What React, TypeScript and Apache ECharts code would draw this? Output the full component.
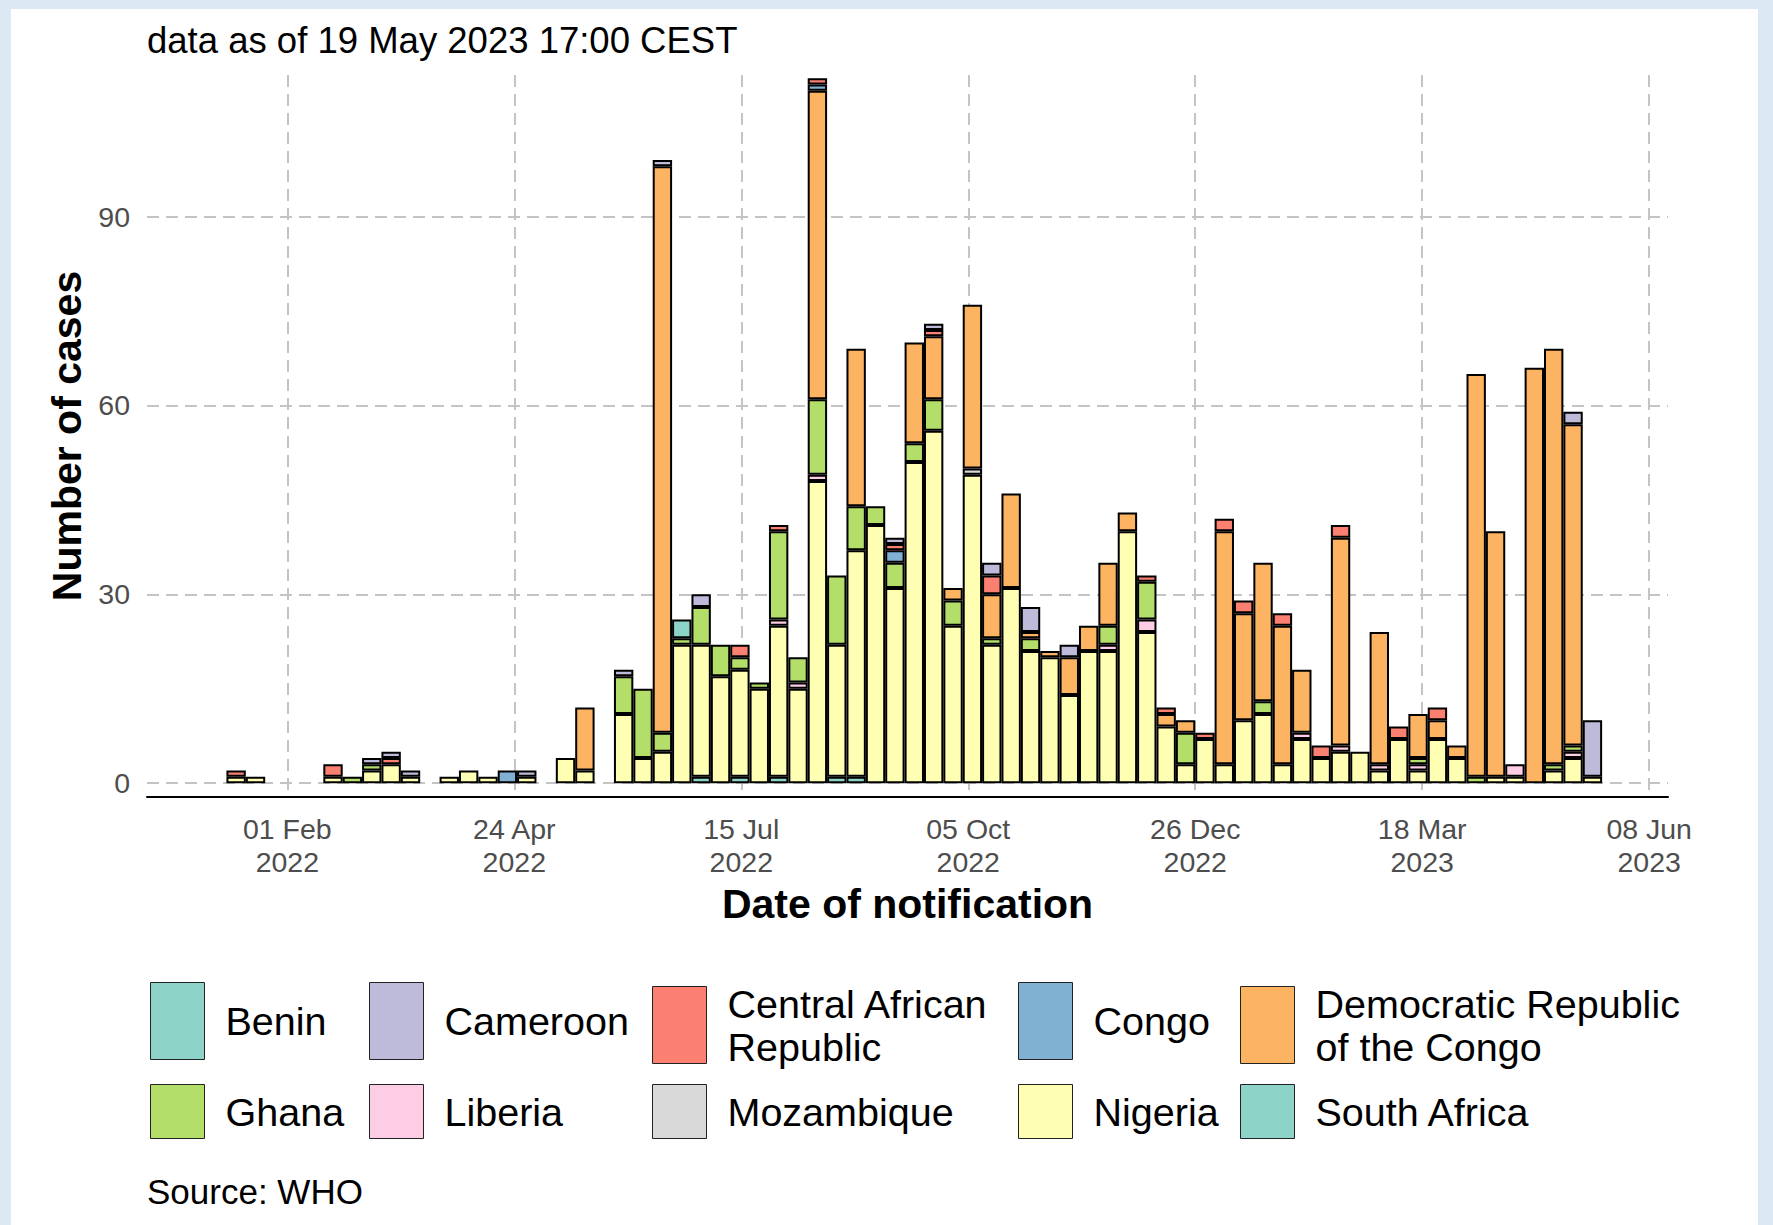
import React, { useEffect, useRef } from "react";
import * as echarts from "echarts";

// ---------- data ----------
const COUNTRIES = [
  "Benin",
  "Cameroon",
  "Central African Republic",
  "Congo",
  "Democratic Republic of the Congo",
  "Ghana",
  "Liberia",
  "Mozambique",
  "Nigeria",
  "South Africa",
];

const COLORS: Record<string, string> = {
  Benin: "#8DD3C7",
  Cameroon: "#BEBADA",
  "Central African Republic": "#FB8072",
  Congo: "#80B1D3",
  "Democratic Republic of the Congo": "#FDB462",
  Ghana: "#B3DE69",
  Liberia: "#FCCDE5",
  Mozambique: "#D9D9D9",
  Nigeria: "#FFFFB3",
  "South Africa": "#8DD3C7",
};

// stacking order, bottom to top
const STACK_ORDER = [
  "South Africa",
  "Nigeria",
  "Mozambique",
  "Liberia",
  "Ghana",
  "Democratic Republic of the Congo",
  "Congo",
  "Central African Republic",
  "Cameroon",
  "Benin",
];

const FIRST_WEEK_START = "2022-01-10"; // ISO week start (Monday) of the first bar
const WEEK_COUNT = 71;

const nigeria = [
  1, 1, 0, 0, 0, 1, 0, 2, 3, 1,
  0, 1, 2, 1, 0, 1, 0, 4, 2, 0,
  11, 4, 5, 22, 21, 17, 17, 15, 24, 15,
  48, 21, 36, 41, 31, 51, 56, 25, 49, 22,
  31, 21, 20, 14, 21, 21, 40, 24, 9, 3,
  7, 3, 10, 11, 3, 7, 4, 5, 5, 2,
  7, 2, 7, 4, 0, 1, 1, 0, 2, 4,
  1,
];
const ghana = [
  0, 0, 0, 0, 0, 0, 1, 1, 0, 0,
  0, 0, 0, 0, 0, 0, 0, 0, 0, 0,
  6, 11, 3, 1, 6, 5, 2, 1, 14, 4,
  12, 11, 7, 3, 4, 3, 5, 4, 0, 1,
  0, 2, 0, 0, 0, 3, 0, 6, 0, 5,
  0, 0, 0, 2, 0, 0, 0, 0, 0, 0,
  0, 1, 0, 0, 1, 0, 0, 0, 1, 1,
  0,
];
const drc = [
  0, 0, 0, 0, 0, 0, 0, 0, 0, 0,
  0, 0, 0, 0, 0, 0, 0, 0, 10, 0,
  0, 0, 90, 0, 0, 0, 0, 0, 0, 0,
  49, 0, 25, 0, 0, 16, 10, 2, 26, 7,
  15, 1, 1, 6, 4, 10, 3, 0, 2, 2,
  0, 37, 17, 22, 22, 10, 0, 33, 0, 21,
  0, 7, 3, 2, 64, 39, 0, 66, 66, 51,
  0,
];
const car = [
  1, 0, 0, 0, 0, 2, 0, 0, 1, 0,
  0, 0, 0, 0, 0, 0, 0, 0, 0, 0,
  0, 0, 0, 0, 0, 0, 2, 0, 1, 0,
  1, 0, 0, 0, 1, 0, 1, 0, 0, 3,
  0, 0, 0, 0, 0, 0, 0, 1, 1, 0,
  1, 2, 2, 0, 2, 0, 2, 2, 0, 0,
  2, 0, 2, 0, 0, 0, 0, 0, 0, 0,
  0,
];
const cameroon = [
  0, 0, 0, 0, 0, 0, 0, 1, 1, 1,
  0, 0, 0, 0, 0, 1, 0, 0, 0, 0,
  1, 0, 1, 0, 2, 0, 0, 0, 0, 0,
  0, 0, 0, 0, 1, 0, 1, 0, 0, 2,
  0, 4, 0, 2, 0, 0, 0, 0, 0, 0,
  0, 0, 0, 0, 0, 0, 0, 0, 0, 0,
  0, 0, 0, 0, 0, 0, 0, 0, 0, 2,
  9,
];
const congo = [
  0, 0, 0, 0, 0, 0, 0, 0, 0, 0,
  0, 0, 0, 0, 2, 0, 0, 0, 0, 0,
  0, 0, 0, 0, 0, 0, 0, 0, 0, 0,
  1, 0, 0, 0, 2, 0, 0, 0, 0, 0,
  0, 0, 0, 0, 0, 0, 0, 0, 0, 0,
  0, 0, 0, 0, 0, 0, 0, 0, 0, 0,
  0, 0, 0, 0, 0, 0, 0, 0, 0, 0,
  0,
];
const liberia = [
  0, 0, 0, 0, 0, 0, 0, 0, 0, 0,
  0, 0, 0, 0, 0, 0, 0, 0, 0, 0,
  0, 0, 0, 0, 0, 0, 0, 0, 1, 1,
  1, 0, 0, 0, 0, 0, 0, 0, 0, 0,
  0, 0, 0, 0, 0, 1, 0, 2, 0, 0,
  0, 0, 0, 0, 0, 1, 0, 1, 0, 1,
  0, 1, 0, 0, 0, 0, 2, 0, 0, 1,
  0,
];
const mozambique = [
  0, 0, 0, 0, 0, 0, 0, 0, 0, 0,
  0, 0, 0, 0, 0, 0, 0, 0, 0, 0,
  0, 0, 0, 0, 0, 0, 0, 0, 0, 0,
  0, 0, 0, 0, 0, 0, 0, 0, 1, 0,
  0, 0, 0, 0, 0, 0, 0, 0, 0, 0,
  0, 0, 0, 0, 0, 0, 0, 0, 0, 0,
  0, 0, 0, 0, 0, 0, 0, 0, 0, 0,
  0,
];
const southAfrica = [
  0, 0, 0, 0, 0, 0, 0, 0, 0, 0,
  0, 0, 0, 0, 0, 0, 0, 0, 0, 0,
  0, 0, 0, 0, 1, 0, 1, 0, 1, 0,
  0, 1, 1, 0, 0, 0, 0, 0, 0, 0,
  0, 0, 0, 0, 0, 0, 0, 0, 0, 0,
  0, 0, 0, 0, 0, 0, 0, 0, 0, 0,
  0, 0, 0, 0, 0, 0, 0, 0, 0, 0,
  0,
];
const benin = [
  0, 0, 0, 0, 0, 0, 0, 0, 0, 0,
  0, 0, 0, 0, 0, 0, 0, 0, 0, 0,
  0, 0, 0, 3, 0, 0, 0, 0, 0, 0,
  0, 0, 0, 0, 0, 0, 0, 0, 0, 0,
  0, 0, 0, 0, 0, 0, 0, 0, 0, 0,
  0, 0, 0, 0, 0, 0, 0, 0, 0, 0,
  0, 0, 0, 0, 0, 0, 0, 0, 0, 0,
  0,
];

const VALUES: Record<string, number[]> = {
  Benin: benin,
  Cameroon: cameroon,
  "Central African Republic": car,
  Congo: congo,
  "Democratic Republic of the Congo": drc,
  Ghana: ghana,
  Liberia: liberia,
  Mozambique: mozambique,
  Nigeria: nigeria,
  "South Africa": southAfrica,
};

const X_TICK_DATES = [
  "2022-02-01",
  "2022-04-24",
  "2022-07-15",
  "2022-10-05",
  "2022-12-26",
  "2023-03-18",
  "2023-06-08",
];
const Y_TICKS = [0, 30, 60, 90];

const LEGEND_LABELS: Record<string, string> = {
  "Central African Republic": "Central African\nRepublic",
  "Democratic Republic of the Congo": "Democratic Republic\nof the Congo",
};

// ---------- helpers ----------
const DAY = 86400000;
const MONTHS = ["Jan", "Feb", "Mar", "Apr", "May", "Jun", "Jul", "Aug", "Sep", "Oct", "Nov", "Dec"];
function ts(iso: string): number {
  const [y, m, d] = iso.split("-").map(Number);
  return Date.UTC(y, m - 1, d);
}
function fmtDate(v: number): string {
  const dt = new Date(v + DAY / 2);
  return `${String(dt.getUTCDate()).padStart(2, "0")} ${MONTHS[dt.getUTCMonth()]}\n${dt.getUTCFullYear()}`;
}
const firstStart = ts(FIRST_WEEK_START);
// bar centred on the middle of its week
const weekCenters = Array.from({ length: WEEK_COUNT }, (_, k) => firstStart + (7 * k + 3.5) * DAY);
const X_MIN = ts("2022-02-01") - 50.7 * DAY;
const X_MAX = ts("2022-02-01") + 498.8 * DAY;

const FONT = "'Liberation Sans', Arial, Helvetica, sans-serif";

export default function App() {
  const ref = useRef<HTMLDivElement>(null);
  useEffect(() => {
    if (!ref.current) return;
    const chart = echarts.init(ref.current, null, { renderer: "svg" });

    // data rows are [cases, weekCentre]; the cases column comes first so that
    // it is the dimension ECharts stacks.
    const series = STACK_ORDER.map((name) => ({
      name,
      type: "bar",
      stack: "cases",
      barCategoryGap: "0%",
      encode: { x: 1, y: 0 },
      itemStyle: { color: COLORS[name], borderColor: "#000", borderWidth: 2 },
      emphasis: { disabled: true },
      data: VALUES[name].map((v, k) => [v > 0 ? v : "-", weekCenters[k]]),
    }));

    const legendLefts = [139, 358, 641, 1007, 1229];
    const legends = COUNTRIES.map((name, i) => {
      const row = i < 5 ? 0 : 1;
      const col = i % 5;
      return {
        data: [name],
        left: legendLefts[col],
        top: row === 0 ? 973 : 1075,
        padding: 0,
        itemWidth: 54,
        itemHeight: row === 0 ? 77 : 54,
        icon: "rect",
        selectedMode: false,
        itemStyle: { borderColor: "#222", borderWidth: 1 },
        formatter: (n: string) => LEGEND_LABELS[n] || n,
        textStyle: {
          fontSize: 39.5,
          fontFamily: FONT,
          color: "#000",
          lineHeight: 43,
          padding: [0, 0, 0, 16],
        },
      };
    });

    const gridLine = { show: true, lineStyle: { color: "#c4c4c4", width: 2, type: [12, 7] } };

    const option: any = {
      animation: false,
      backgroundColor: "#ffffff",
      textStyle: { fontFamily: FONT },
      title: [
        {
          text: "data as of 19 May 2023 17:00 CEST",
          left: 136,
          top: 13,
          padding: 0,
          textStyle: { fontSize: 36.5, fontWeight: "normal", color: "#000", fontFamily: FONT },
        },
        {
          text: "Source: WHO",
          left: 136,
          top: 1165,
          padding: 0,
          textStyle: { fontSize: 35, fontWeight: "normal", color: "#000", fontFamily: FONT },
        },
      ],
      legend: legends,
      grid: {
        left: 136,
        top: 66,
        width: 1521,
        height: 722,
        containLabel: false,
        outerBoundsMode: "none",
      },
      xAxis: {
        type: "value",
        min: X_MIN,
        max: X_MAX,
        name: "Date of notification",
        nameLocation: "middle",
        nameGap: 86,
        nameTextStyle: { fontSize: 41, fontWeight: "bold", color: "#000", fontFamily: FONT },
        axisLine: { show: true, onZero: false, lineStyle: { color: "#000", width: 2 } },
        axisTick: { show: false, customValues: X_TICK_DATES.map(ts) },
        axisLabel: {
          customValues: X_TICK_DATES.map(ts),
          formatter: (v: number) => fmtDate(v),
          fontSize: 28.5,
          lineHeight: 33,
          color: "#4d4d4d",
          margin: 15,
          fontFamily: FONT,
        },
        splitLine: gridLine,
      },
      yAxis: {
        type: "value",
        min: -2.2,
        max: 112.5,
        name: "Number of cases",
        nameLocation: "middle",
        nameGap: 58,
        nameTextStyle: { fontSize: 41, fontWeight: "bold", color: "#000", fontFamily: FONT },
        axisLine: { show: false },
        axisTick: { show: false, customValues: Y_TICKS },
        axisLabel: {
          customValues: Y_TICKS,
          fontSize: 28.5,
          color: "#4d4d4d",
          margin: 17,
          fontFamily: FONT,
        },
        splitLine: gridLine,
      },
      series,
    };
    chart.setOption(option);
    return () => chart.dispose();
  }, []);

  return (
    <div
      style={{
        position: "fixed",
        left: 0,
        top: 0,
        width: 1773,
        height: 1225,
        background: "#dde8f5",
        overflow: "hidden",
      }}
    >
      <div
        ref={ref}
        style={{ position: "absolute", left: 11, top: 9, width: 1747, height: 1216, background: "#fff" }}
      />
    </div>
  );
}
